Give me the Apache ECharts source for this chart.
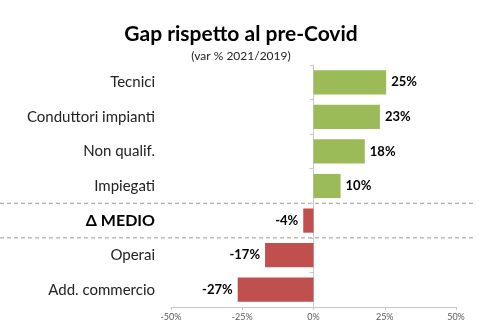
<!DOCTYPE html>
<html><head><meta charset="utf-8">
<script src="https://cdn.jsdelivr.net/npm/echarts@6/dist/echarts.min.js"></script>
<style>html,body{margin:0;padding:0;background:#fff}#c{width:495px;height:336px}</style>
</head><body><div id="c"></div>
<script>
const categories = ['Tecnici', 'Conduttori impianti', 'Non qualif.', 'Impiegati', 'Δ MEDIO', 'Operai', 'Add. commercio'];
const values = [25.5, 23.3, 18, 9.5, -3.6, -17, -26.6];
const valueLabels = ['25%', '23%', '18%', '10%', '-4%', '-17%', '-27%'];
const xTicks = [-50, -25, 0, 25, 50];

const FONT = 'Lato';
const chart = echarts.init(document.getElementById('c'), null, {renderer: 'canvas'});
const option = {
  animation: false,
  title: {
    text: 'Gap rispetto al pre-Covid',
    subtext: '(var % 2021/2019)',
    left: 236, textAlign: 'center', top: 19, itemGap: 5,
    textStyle: {fontFamily: FONT, fontWeight: 'bold', fontSize: 21, color: '#000'},
    subtextStyle: {fontFamily: FONT, fontSize: 12, color: '#222'}
  },
  grid: {left: 171, right: 39, top: 65, bottom: 29},
  xAxis: {
    type: 'value', min: xTicks[0], max: xTicks[xTicks.length - 1], interval: 25,
    axisLine: {show: true, onZero: false, lineStyle: {color: '#c8c8c8'}},
    axisTick: {show: true, length: 3, lineStyle: {color: '#c8c8c8'}},
    splitLine: {show: false},
    axisLabel: {formatter: v => v + '%', fontSize: 9, color: '#595959', fontFamily: FONT, margin: 6}
  },
  yAxis: [{
    type: 'category', data: categories, inverse: true,
    axisLine: {show: false, onZero: false},
    axisTick: {show: false},
    axisLabel: {
      margin: 16, fontFamily: FONT, fontSize: 15, color: '#222',
      formatter: v => v === 'Δ MEDIO' ? '{b|' + v + '}' : v,
      rich: {b: {fontFamily: FONT, fontSize: 16, fontWeight: 'bold', color: '#000'}}
    }
  }, {
    type: 'category', data: categories, inverse: true, position: 'left',
    axisLine: {show: true, onZero: true, lineStyle: {color: '#c8c8c8'}},
    axisTick: {show: true, length: 4, lineStyle: {color: '#c8c8c8'}},
    axisLabel: {show: false}
  }],
  series: [{
    type: 'bar', yAxisIndex: 0, barCategoryGap: '30%',
    data: values.map((v, i) => ({
      value: v,
      itemStyle: {color: v >= 0 ? '#9bbb59' : '#c0504d'},
      label: {position: v >= 0 ? 'right' : 'left'}
    })),
    label: {
      show: true, distance: 5, fontFamily: FONT, fontWeight: 'bold', fontSize: 13, color: '#000',
      formatter: p => valueLabels[p.dataIndex]
    }
  }]
};
chart.setOption(option);

// dashed separators around the average row, placed from the axis scale
const iAvg = categories.indexOf('Δ MEDIO');
const yc = c => chart.convertToPixel({yAxisIndex: 0}, c);
const yTop = (yc(categories[iAvg - 1]) + yc(categories[iAvg])) / 2;
const yBot = (yc(categories[iAvg]) + yc(categories[iAvg + 1])) / 2;
const dash = y => ({type: 'line', shape: {x1: 0, y1: y, x2: 473, y2: y},
  style: {stroke: '#9a9a9a', lineWidth: 1, lineDash: [4, 3]}, z: 0});
chart.setOption({graphic: [dash(yTop), dash(yBot)]});
</script></body></html>
